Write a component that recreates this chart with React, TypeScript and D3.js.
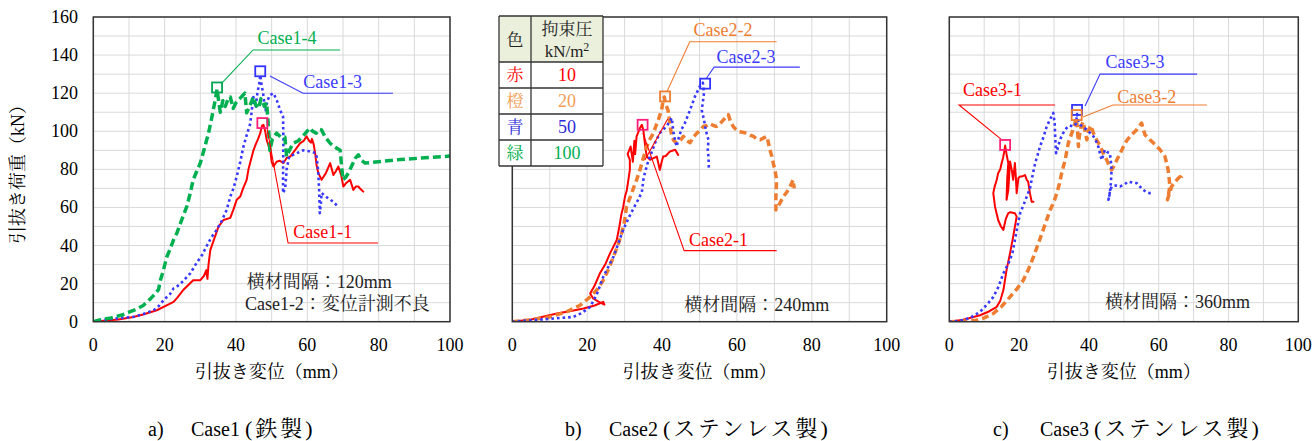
import React from 'react';
import * as d3 from 'd3';

type P = [number, number];

// ---------- axis ticks ----------
const xTicks = [0, 20, 40, 60, 80, 100];
const yTicks = [0, 20, 40, 60, 80, 100, 120, 140, 160];
const gridXValues = [0, 10, 20, 30, 40, 50, 60, 70, 80, 90, 100];
const gridYValues = [0, 10, 20, 30, 40, 50, 60, 70, 80, 90, 100, 110, 120, 130, 140, 150, 160];

// ---------- Case1 ----------
const case1_1: P[] = [[0,0],[3,0.5],[7,1.2],[11.2,2.5],[14,3.8],[17.8,6],[20,8],[22.5,10.4],[23.5,12.5],[25.2,16.6],[26.5,19],[28,21.8],[30,21.8],[31,24],[31.7,27.1],[32,22.5],[32.3,30],[32.8,37.6],[33.8,43],[35.1,49.9],[36.5,53.4],[38.4,54.5],[39.3,59],[40.2,64],[41.2,65.7],[42,70],[43,74.5],[43.5,80],[44.2,85],[44.9,90],[45.5,93],[46.2,96],[46.8,99],[47.3,103],[47.7,103.4],[48.2,100],[48.6,95.5],[49.2,92],[49.6,90.3],[50,84],[50.5,81.5],[51.4,84],[52.3,84.5],[53.3,83.3],[54.2,86],[55.2,86.7],[56.5,90],[58,93.8],[59,95],[59.8,97.3],[60.5,95],[61,94],[61.3,96],[61.8,93],[62.2,88.4],[62.6,82],[63.1,78],[64,74.5],[65.2,78],[66.4,83.3],[67.3,77],[68,79],[68.7,81.5],[69.5,77],[70.1,71],[71,73],[72,74.5],[72.9,69.2],[73.6,71],[74.3,71],[75,69.5],[75.7,68.3]];
const case1_3: P[] = [[0,0],[2,0.8],[5,1.5],[8,2],[11.2,2.5],[14,4],[16.9,6],[18.5,8.5],[19.7,11.3],[21.5,14.5],[22.5,17.5],[23.4,18.3],[25,21],[27.2,25.4],[29,31],[30.5,35],[31.7,39.4],[33,44],[34.6,48.2],[36,53],[37.4,58.7],[38.4,65.7],[39.3,70],[40.2,76.2],[41.2,84],[42.1,92],[43,98],[44,104],[44.5,112],[44.9,118],[45.5,113],[46,120],[46.5,125],[46.8,129.5],[47.2,124],[47.6,120],[48,114],[48.3,111],[48.8,116],[49.5,119],[50.5,120],[51.5,116],[52.4,111],[53.2,107.8],[53.3,95],[53.2,80],[53.2,67.5],[53.8,70],[54.2,80],[54.9,86.7],[56.5,88],[58.8,90],[60.5,89.5],[62.5,88.4],[63,80],[63.3,70],[63.5,57],[63.8,62],[64,67.6],[65,66],[66,64.5],[67.3,63],[68.6,60.4]];
const case1_4: P[] = [[0,0],[2,1],[5,2],[8,3.5],[10,5],[12,6.5],[14,8.5],[16,12],[17.5,15],[18.3,17],[18.8,21.8],[19.5,26],[20.6,34],[21.5,38],[22.5,43],[23.4,46.4],[24.5,52],[25.5,57],[26.2,60.4],[27.2,67.6],[28,74.5],[29,79],[30,83.3],[31,90],[32.3,99],[33.2,107],[34.2,116.6],[34.7,122],[35.2,115],[35.6,110],[36.3,116],[37,113],[38,118],[38.4,118],[39.2,112],[40,115],[41,117],[42.5,120],[43,109.7],[43.8,113],[44.9,118],[45.5,114],[46.3,112],[47,117],[48,113],[48.6,115],[49,105],[49.5,90],[50.2,96],[51.4,99],[52.5,97],[53.7,97],[54.2,86.7],[55,90],[56,93.7],[57.5,95],[59,98],[60.7,101.7],[61.5,100],[62.5,99],[63.3,101],[64,100.7],[65,97],[66.4,93.7],[67.5,92],[69.2,90],[69.6,82],[70,74.5],[70.8,76],[71.5,78],[72.5,82],[73.5,86],[74.3,87.6],[75,85],[76.2,83.3],[85,85],[100,87]];

// ---------- Case2 ----------
const case2_1: P[] = [[0,0],[5,1.2],[11.9,4.3],[16,5.8],[19,6.9],[22,8.5],[24.3,10.4],[24.6,9],[23,10.5],[21.6,12.2],[20.8,14.8],[22,19],[23.4,25.4],[24.8,30],[26.1,35.9],[27.9,42.9],[28.6,50],[29.2,57],[29.6,60],[30.1,65.7],[30.6,69.2],[31,74.5],[31.4,79.7],[31.4,85],[30.8,88],[31.6,92],[32.2,84],[32.6,95],[32.8,88],[33.2,97.3],[34.1,101.7],[34.6,103.4],[35,100.8],[35.4,93.8],[35.9,86.7],[36.8,85],[37.3,85.5],[38.6,86.7],[39.4,79.7],[39.9,84],[40.3,86.7],[41,87],[42.1,89.4],[43.5,90.3],[44.3,87.6]];
const case2_2: P[] = [[0,0],[5,1],[10,2.5],[14.5,5.2],[18,8.5],[20.8,13],[22.5,16.5],[24.3,21.8],[25.8,28],[27,34],[28.2,40],[29.2,46.4],[30,53],[30.5,60.4],[31.2,64],[31.9,67.5],[32.7,72],[33.2,74.5],[34.1,79.7],[35,86],[35.9,92],[36.8,96],[37.7,99],[38.4,103],[39,106],[39.9,111.3],[40.3,116.6],[40.6,118],[41,114],[41.6,111],[42.1,104],[42.6,97],[43.2,95],[43.9,93.8],[44.8,95],[45.7,97.3],[46.6,95],[47.5,94],[48.4,97],[49.3,99],[50.2,100.5],[51,102.5],[52,103],[52.8,104],[53.7,103],[54.6,102.5],[55.5,104],[56.4,106],[57.1,107.5],[57.7,108.7],[58.3,105],[59,102.5],[59.7,101],[60.4,99.9],[61.5,99.5],[62.6,99],[63.5,98],[64.4,97.3],[65.3,96],[66.2,95.5],[67.1,96.5],[68,97.3],[68.4,94],[68.8,90.3],[69.3,87],[69.7,83.3],[70.2,79],[70.6,74.5],[70.5,70],[70.4,65.7],[70.4,58.7],[71.4,62],[72.4,65.7],[73.3,68],[74.2,71],[75,74.5],[75.3,70]];
const case2_3: P[] = [[0,0],[5,0.8],[10,1.5],[16.3,2.5],[18.5,4.5],[20.8,7.8],[22.5,14],[24.3,23.6],[25.7,29],[27,34],[28.3,41],[29.6,48.2],[31.2,55],[32.5,60],[33.6,64],[34.6,68],[35,74.5],[35.4,78],[36.1,83],[36.8,86.7],[38.1,93.8],[39.4,99],[40.3,101],[41.2,102.5],[42.6,107],[43,100],[43.5,95],[43.9,92],[44.5,97],[45.2,101],[46.1,104.3],[47.5,111.3],[48.8,118.3],[50.1,123.6],[50.9,125.5],[51.2,120],[50.6,111],[51.2,106],[51.5,102.5],[52,98],[52.4,95.5],[52.2,90],[52.4,86.7],[52.5,80.6]];

// ---------- Case3 ----------
const case3_1: P[] = [[0,0],[4,1],[8.8,3.4],[11.5,5.5],[13.6,7.8],[14.6,11],[15.5,16.6],[16.4,27.1],[17.4,35.9],[18.3,44.6],[18.8,49.9],[19.3,55.2],[18.8,57],[17.5,57.5],[16.9,57],[16.2,54],[15.9,51.7],[15.5,48.2],[14.8,50],[14,53.4],[13.1,60.4],[12.6,67.5],[13,71],[13.6,74.5],[14,78],[14.6,80],[15,83.3],[15.4,86],[15.7,89],[16,92.5],[16.4,88],[16.9,83.3],[16.6,75],[16.4,64],[16.9,69],[17.4,84.1],[17.9,79.7],[18.3,74.5],[18.8,83.3],[19.1,75],[19.3,67.5],[19.8,75.4],[20.3,76.2],[20.7,76.2],[21.7,77],[22.2,74.5],[22.6,73.6],[23.1,67.5],[23.6,63],[24.1,63]];
const case3_2: P[] = [[0,0],[4,0.3],[7.8,0.8],[10,2],[12.6,4.3],[15,8],[17.4,13],[19.5,17.5],[21.2,21.8],[22.8,28],[24.1,34],[25.5,41],[26.9,48.2],[27.9,53.5],[28.9,58.7],[30,63],[30.8,67.5],[31.5,72],[32.2,78],[33.2,85],[34.1,93.8],[35.1,99],[35.6,102],[36,104],[36.3,107],[36.7,102],[37,92],[37.3,98],[37.8,103],[38.4,105],[38.9,100],[39.4,95.5],[40,101],[40.6,103],[41.3,99],[42.2,95.5],[43,93],[43.7,90.3],[44.4,87],[45.1,85],[45.8,82],[46.5,79.7],[47.3,82],[48,85],[49,88.5],[49.9,92],[50.8,95],[51.8,97.3],[52.7,99],[53.7,100.8],[54.4,102.5],[55.1,104.3],[55.6,101],[56.1,98],[56.6,97.3],[57.5,95.5],[58.5,93.8],[59.5,92],[60.4,90.3],[61.1,88.5],[61.8,86.7],[62.3,83],[62.7,79.7],[63,75],[63.2,71],[62.8,67],[62.5,64],[63.2,68],[63.7,71],[64.5,73],[65.2,74.5],[66,76],[67,77],[66.5,76]];
const case3_3: P[] = [[0,0],[3,0.5],[6,2],[8.8,5.2],[10.8,9],[12.6,13],[14,18],[15.5,25.4],[17.4,32.4],[18.2,37],[18.8,42.9],[19.5,50],[20.3,57],[21.2,61],[22.2,65.7],[23.1,70],[23.6,74.5],[24.1,79],[24.6,83.3],[25.3,87.5],[26,92],[27,97],[27.9,102.5],[28.8,106],[29.8,109.6],[30.2,104],[30.3,99],[30.6,88.5],[31.2,92],[31.7,95.5],[32.6,99],[33.6,101.7],[34.5,103],[35.5,102.5],[36.3,104],[36.6,109],[37,106],[37.5,103.4],[38.5,102],[39.4,100.8],[40.4,99],[41.3,97.3],[42,95],[42.7,92],[43.2,88],[43.7,85],[44.2,88],[44.6,90.3],[45.3,89],[46,88.5],[46.3,84],[46.5,79.7],[46.3,73],[46,67.5],[45.6,64],[46,68],[46.5,71],[47.7,71.5],[48.9,71],[50.1,72],[51.3,73.6],[52.5,73],[53.7,72.8],[54.6,71],[55.6,69.2],[56.5,68],[57.5,67.5],[58,67.5]];

// ---------- legend table ----------
const legendColorNames = ['赤', '橙', '青', '緑'];
const legendPressures = ['10', '20', '50', '100'];

// ---------- styles ----------
const FONT = "'Liberation Serif','Times New Roman','Noto Serif CJK JP','Noto Sans CJK JP',serif";
const CJK = "'Noto Sans CJK JP','Liberation Serif',serif";
const TOP = 17;
const BOTTOM = 321.7;

type StyleKey = 'red' | 'orange' | 'blue' | 'green';
const LINE_STYLE: Record<StyleKey, { stroke: string; width: number; dash?: string; cap: string }> = {
  red: { stroke: '#ff0000', width: 2, cap: 'round' },
  orange: { stroke: '#ed7d31', width: 3.5, dash: '7,4', cap: 'butt' },
  blue: { stroke: '#3838ff', width: 2.6, dash: '2.6,3', cap: 'butt' },
  green: { stroke: '#00b050', width: 3.5, dash: '8,4', cap: 'butt' },
};
const MARK_COLOR: Record<StyleKey, string> = { red: '#ff1f7a', orange: '#ed7d31', blue: '#3333ff', green: '#00a650' };
const LABEL_COLOR: Record<StyleKey, string> = { red: '#ff0000', orange: '#ed7d31', blue: '#3b3bff', green: '#00b050' };

interface Annot { label: string; color: StyleKey; marker: P; leader: P[]; labelAt: P; extra?: P[] }
interface PanelCfg {
  id: string; left: number; right: number; showY: boolean;
  series: { data: P[]; style: StyleKey }[];
  annots: Annot[];
  notes: { text: string; at: P }[];
  caption: [string, string, string]; captionX: [number, number];
}

const panels: PanelCfg[] = [
  {
    id: 'a', left: 93.3, right: 450, showY: true,
    series: [{ data: case1_1, style: 'red' }, { data: case1_3, style: 'blue' }, { data: case1_4, style: 'green' }],
    annots: [
      { label: 'Case1-4', color: 'green', marker: [34.7, 123], leader: [[35.9, 125], [44.8, 142.7], [69.2, 142.7]], labelAt: [54.3, 149] },
      { label: 'Case1-3', color: 'blue', marker: [46.8, 131.5], leader: [[49.5, 129], [58.8, 120], [84, 120]], labelAt: [67.1, 126] },
      { label: 'Case1-1', color: 'red', marker: [47.4, 104.3], leader: [[48.7, 101.7], [54.6, 41.3], [79.8, 41.3]], labelAt: [64.3, 47.3] },
    ],
    notes: [{ text: '横材間隔：120mm', at: [43, 21] }, { text: 'Case1-2：変位計測不良', at: [42.5, 9.3] }],
    caption: ['a)', 'Case1 ', '(鉄製)'], captionX: [148, 191],
  },
  {
    id: 'b', left: 512.3, right: 886.7, showY: false,
    series: [{ data: case2_1, style: 'red' }, { data: case2_2, style: 'orange' }, { data: case2_3, style: 'blue' }],
    annots: [
      { label: 'Case2-2', color: 'orange', marker: [40.8, 118.3], leader: [[41.3, 120.8], [47.4, 147], [70.6, 147]], labelAt: [56.3, 153.2] },
      { label: 'Case2-3', color: 'blue', marker: [51.5, 125], leader: [[51.9, 128], [53.9, 133.7], [76.8, 133.7]], labelAt: [62.4, 139] },
      { label: 'Case2-1', color: 'red', marker: [34.8, 103.4], leader: [[34.9, 99], [45.9, 37.3], [70.6, 37.3]], labelAt: [55.1, 42.9], extra: [[41.5, 106.4], [35.4, 84.9]] },
    ],
    notes: [{ text: '横材間隔：240mm', at: [45.9, 8.8] }],
    caption: ['b)', 'Case2 ', '(ステンレス製)'], captionX: [565, 609],
  },
  {
    id: 'c', left: 949.3, right: 1298.3, showY: false,
    series: [{ data: case3_1, style: 'red' }, { data: case3_2, style: 'orange' }, { data: case3_3, style: 'blue' }],
    annots: [
      { label: 'Case3-1', color: 'red', marker: [16, 92.8], leader: [[14.8, 95.9], [2.8, 113.8], [30.3, 113.8]], labelAt: [12.4, 121.7] },
      { label: 'Case3-3', color: 'blue', marker: [36.6, 111.2], leader: [[38.9, 113.3], [43.2, 130], [71, 130]], labelAt: [53.2, 136.5] },
      { label: 'Case3-2', color: 'orange', marker: [36.5, 108.5], leader: [[38.3, 107.5], [46.9, 113.8], [73.8, 113.8]], labelAt: [56.6, 118.1] },
    ],
    notes: [{ text: '横材間隔：360mm', at: [44.6, 10.5] }],
    caption: ['c)', 'Case3 ', '(ステンレス製)'], captionX: [993, 1040],
  },
];

function Panel({ cfg }: { cfg: PanelCfg }) {
  const x = d3.scaleLinear().domain([0, 100]).range([cfg.left, cfg.right]);
  const y = d3.scaleLinear().domain([0, 160]).range([BOTTOM, TOP]);
  const line = d3.line<P>().x(d => x(d[0])).y(d => y(d[1]));
  const clipId = `clip-${cfg.id}`;
  const cx = (cfg.left + cfg.right) / 2;
  return (
    <g>
      <defs>
        <clipPath id={clipId}>
          <rect x={cfg.left} y={TOP} width={cfg.right - cfg.left} height={BOTTOM - TOP} />
        </clipPath>
      </defs>
      <rect x={cfg.left} y={TOP} width={cfg.right - cfg.left} height={BOTTOM - TOP} fill="#fff" />
      {gridXValues.map(v => (
        <line key={'gx' + v} x1={x(v)} x2={x(v)} y1={TOP} y2={BOTTOM} stroke="#d9d9d9" strokeWidth={1} />
      ))}
      {gridYValues.map(v => (
        <line key={'gy' + v} x1={cfg.left} x2={cfg.right} y1={y(v)} y2={y(v)} stroke="#d9d9d9" strokeWidth={1} />
      ))}
      <g clipPath={`url(#${clipId})`}>
        {cfg.series.map((s, i) => {
          const st = LINE_STYLE[s.style];
          return (
            <path key={i} d={line(s.data) || ''} fill="none" stroke={st.stroke} strokeWidth={st.width}
              strokeDasharray={st.dash} strokeLinecap={st.cap as any} strokeLinejoin="round" />
          );
        })}
      </g>
      <rect x={cfg.left} y={TOP} width={cfg.right - cfg.left} height={BOTTOM - TOP} fill="none" stroke="#333" strokeWidth={1.5} />
      {cfg.annots.map((a, i) => (
        <g key={'an' + i}>
          <path d={line(a.leader) || ''} fill="none" stroke={LABEL_COLOR[a.color]} strokeWidth={1.1} />
          {a.extra && <path d={line(a.extra) || ''} fill="none" stroke={LABEL_COLOR[a.color]} strokeWidth={1.1} />}
          <rect x={x(a.marker[0]) - 5} y={y(a.marker[1]) - 5} width={10} height={10} fill="none"
            stroke={MARK_COLOR[a.color]} strokeWidth={1.8} />
          <text x={x(a.labelAt[0])} y={y(a.labelAt[1]) + 6} textAnchor="middle" fontFamily={FONT} fontSize={18}
            fill={LABEL_COLOR[a.color]}>{a.label}</text>
        </g>
      ))}
      {cfg.notes.map((n, i) => (
        <text key={'n' + i} x={x(n.at[0])} y={y(n.at[1]) + 6.5} fontFamily={FONT} fontSize={18} fill="#222">{n.text}</text>
      ))}
      {cfg.showY && yTicks.map(v => (
        <text key={'yt' + v} x={78} y={y(v) + 6} textAnchor="end" fontFamily={FONT} fontSize={18} fill="#000">{v}</text>
      ))}
      {xTicks.map(v => (
        <text key={'xt' + v} x={x(v)} y={351} textAnchor="middle" fontFamily={FONT} fontSize={18} fill="#000">{v}</text>
      ))}
      <text x={cx} y={378} textAnchor="middle" fontFamily={FONT} fontSize={18} fill="#000">引抜き変位（mm）</text>
      <text x={cfg.captionX[0]} y={436} fontFamily={FONT} fontSize={20} fill="#000">{cfg.caption[0]}</text>
      <text x={cfg.captionX[1]} y={436} fontFamily={FONT} fontSize={20} fill="#000">
        {cfg.caption[1]}
        <tspan fontSize={22} letterSpacing={3}>{cfg.caption[2]}</tspan>
      </text>
    </g>
  );
}

function LegendTable() {
  const cols = [499, 531, 603];
  const rows = [16, 62, 88, 114, 140, 166];
  const colors = ['#ff0000', '#f39c55', '#2b2bd9', '#00b050'];
  const c1 = (cols[0] + cols[1]) / 2;
  const c2 = (cols[1] + cols[2]) / 2;
  return (
    <g fontFamily={FONT}>
      <rect x={cols[0]} y={rows[0]} width={cols[2] - cols[0]} height={rows[1] - rows[0]} fill="#ebf0dc" />
      <rect x={cols[0]} y={rows[1]} width={cols[2] - cols[0]} height={rows[5] - rows[1]} fill="#fff" />
      {rows.map((r, i) => (
        <line key={'r' + i} x1={cols[0]} x2={cols[2]} y1={r} y2={r} stroke="#333" strokeWidth={1.3} />
      ))}
      {cols.map((c, i) => (
        <line key={'c' + i} x1={c} x2={c} y1={rows[0]} y2={rows[5]} stroke="#333" strokeWidth={1.3} />
      ))}
      <text x={c1} y={46} textAnchor="middle" fontSize={17} fill="#222">色</text>
      <text x={c2} y={35} textAnchor="middle" fontSize={17} fill="#222">拘束圧</text>
      <text x={c2} y={57} textAnchor="middle" fontSize={17} fill="#222">kN/m<tspan fontSize={12} dy={-6}>2</tspan></text>
      {legendColorNames.map((n, i) => {
        const cy = (rows[i + 1] + rows[i + 2]) / 2;
        return (
          <g key={n}>
            <text x={c1} y={cy + 6} textAnchor="middle" fontSize={17} fill={colors[i]}>{n}</text>
            <text x={c2} y={cy + 6} textAnchor="middle" fontSize={18} fill={colors[i]}>{legendPressures[i]}</text>
          </g>
        );
      })}
    </g>
  );
}

export default function App() {
  return (
    <svg width={1313} height={441} style={{ position: 'absolute', left: 0, top: 0, background: '#fff' }}>
      <rect x={0} y={0} width={1313} height={441} fill="#fff" />
      {panels.map(p => <Panel key={p.id} cfg={p} />)}
      <LegendTable />
      <text transform="translate(24,170) rotate(-90)" textAnchor="middle" fontFamily={FONT} fontSize={18} fill="#000">引抜き荷重（kN）</text>
    </svg>
  );
}
